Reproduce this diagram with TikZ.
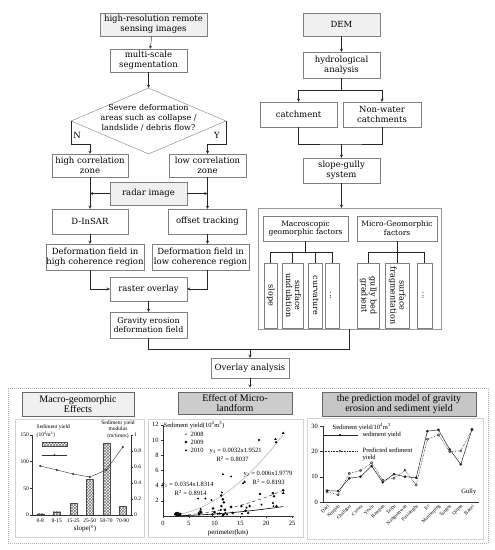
\documentclass[tikz,border=0pt]{standalone}
\usepackage{fontspec}
\setmainfont{DejaVu Serif}
\newfontfamily\chartfont{Liberation Serif}
\usepackage{graphicx}
\usetikzlibrary{shapes.geometric, arrows, positioning, patterns, plotmarks}
\newcommand{\factortext}[1]{\rotatebox{-90}{\begin{tabular}{@{}c@{}}#1\end{tabular}}}
\tikzstyle{process} = [rectangle, draw=gray, fill=white, inner sep=0pt, align=center, font=\fontsize{8.5}{10}\selectfont]
\tikzstyle{source} = [process, fill=gray!12]
\tikzstyle{decision} = [diamond, draw=gray, inner sep=0pt, minimum width=155pt, minimum height=66pt]
\tikzstyle{group} = [rectangle, draw=gray!80, inner sep=0pt]
\tikzstyle{factor} = [process, minimum height=65pt, font=\fontsize{8}{9}\selectfont]
\tikzstyle{arrow} = [->, >=stealth, draw=black!85]
\tikzstyle{link} = [draw=black!85]
\tikzstyle{results} = [rectangle, draw=gray!60, densely dotted, line width=1pt, inner sep=0pt]
\tikzstyle{panel} = [rectangle, draw=gray!35, line width=0.8pt, inner sep=0pt]
\tikzstyle{title} = [rectangle, draw=gray!80!black, align=center, inner sep=0pt, font=\chartfont\fontsize{10}{10.5}\selectfont]
\tikzstyle{tick} = [inner sep=0.5pt, font=\chartfont\fontsize{5.5}{6.5}\selectfont]
\tikzstyle{ticklg} = [inner sep=0.5pt, font=\chartfont\fontsize{6.5}{7}\selectfont]
\tikzstyle{legend} = [inner sep=0.5pt, font=\chartfont\fontsize{6.5}{7.2}\selectfont]
\tikzstyle{axis} = [draw=black!80, line width=0.4pt]
\tikzstyle{bar} = [draw=black!70, line width=0.3pt, pattern=crosshatch, pattern color=black!55]
\tikzset{wh/.style 2 args={minimum width=#1pt, minimum height=#2pt}}

\begin{document}
\begin{tikzpicture}[x=1pt, y=-1pt]
        \useasboundingbox (0,0) rectangle (495,550);

        % Deformation branch
        \node (hrs) [source, wh={107}{23}] at (153.5,24.5) {high-resolution remote\\sensing images};
        \node (mss) [process, wh={77}{23}] at (148.5,60.5) {multi-scale\\segmentation};
        \node (dec) [decision] at (148.5,121) {};
        \node (dectext) [align=center, inner sep=0pt, font=\fontsize{8}{9.7}\selectfont] at (148.5,118) {Severe deformation\\areas such as collapse /\\landslide / debris flow?};
        \node (no) [inner sep=0pt, font=\fontsize{8.5}{10}\selectfont] at (77,135) {N};
        \node (yes) [inner sep=0pt, font=\fontsize{8.5}{10}\selectfont] at (217,135) {Y};
        \node (hcz) [process, wh={76}{23}] at (90,165.5) {high correlation\\zone};
        \node (lcz) [process, wh={77}{23}] at (207.5,165.5) {low correlation\\zone};
        \node (radar) [source, wh={77}{23}] at (148.5,193.5) {radar image};
        \node (dinsar) [process, wh={76}{25}] at (90,221.5) {D-InSAR};
        \node (offset) [process, wh={78}{25}] at (207.5,221.5) {offset tracking};
        \node (dfh) [process, wh={98}{26}] at (95,257) {Deformation field in\\high coherence region};
        \node (dfl) [process, wh={97}{26}] at (200.5,257) {Deformation field in\\low coherence region};
        \node (raster) [process, wh={77}{24}] at (148.5,289) {raster overlay};
        \node (gravity) [process, wh={77}{26}, font=\fontsize{8}{9.5}\selectfont] at (148.5,325) {Gravity erosion\\deformation field};

        % Terrain branch
        \node (dem) [source, wh={77}{23}] at (341.5,24.5) {DEM};
        \node (hydro) [process, wh={77}{26}] at (341.5,65) {hydrological\\analysis};
        \node (catch) [process, wh={77}{25}] at (298.5,114.5) {catchment};
        \node (nonwater) [process, wh={78}{25}] at (382,114.5) {Non-water\\catchments};
        \node (sg) [process, wh={77}{25}] at (341.5,170.5) {slope-gully\\system};
        \node (fac) [group, wh={183}{121}] at (349.5,268.5) {};
        \node (macro) [process, wh={85}{25}, font=\fontsize{7.5}{8.8}\selectfont] at (305.5,228.5) {Macroscopic\\geomorphic factors};
        \node (micro) [process, wh={80}{25}, font=\fontsize{7.5}{8.8}\selectfont] at (397,228.5) {Micro-Geomorphic\\factors};
        \node (slope) [factor, minimum width=13pt] at (270.5,295.5) {\factortext{slope}};
        \node (undul) [factor, minimum width=21pt] at (292.5,295.5) {\factortext{surface\\undulation}};
        \node (curv) [factor, minimum width=14pt] at (315,295.5) {\factortext{curvature}};
        \node (more1) [factor, minimum width=14pt] at (332,295.5) {\factortext{...}};
        \node (gbg) [factor, minimum width=22pt] at (368,295.5) {\factortext{gully bed\\gradient}};
        \node (sfrag) [factor, minimum width=24pt] at (397,295.5) {\factortext{surface\\fragmentation}};
        \node (more2) [factor, minimum width=15pt] at (424.5,295.5) {\factortext{...}};

        \node (overlay) [process, wh={78}{20}] at (250,368) {Overlay analysis};
        \coordinate (ojoin) at (250,349);

        % Arrows, left
        \draw [arrow] (hrs) -- (mss);
        \draw [arrow] (mss) -- (dec);
        \draw [arrow] (dec.west) -- ++(0,23) -| (hcz.north);
        \draw [arrow] (dec.east) -- ++(0,23) -| (lcz.north);
        \draw [arrow] (hcz) -- (dinsar);
        \draw [arrow] (lcz) -- (offset);
        \draw [arrow] (radar.west) -- (radar.west -| hcz.south);
        \draw [arrow] (radar.east) -- (radar.east -| lcz.south);
        \draw [arrow] (dinsar.south) -- (dinsar.south |- dfh.north);
        \draw [arrow] (offset.south) -- (offset.south |- dfl.north);
        \draw [arrow] (dinsar.south |- dfh.south) |- (raster.west);
        \draw [arrow] (offset.south |- dfl.south) |- (raster.east);
        \draw [arrow] (raster) -- (gravity);

        % Arrows, right
        \draw [arrow] (dem) -- (hydro);
        \draw [link] (hydro.south) -- ++(0,12) coordinate (hsplit);
        \draw [arrow] (hsplit) -| (catch.north);
        \draw [arrow] (hsplit) -| (nonwater.north);
        \coordinate (cjoin) at (341.5,144);
        \draw [link] (catch.south) |- (cjoin) -| (nonwater.south);
        \draw [arrow] (cjoin) -- (sg.north);
        \draw [arrow] (sg.south) -- (sg.south |- fac.north);
        \draw [link] (macro.south) -- ++(0,11) coordinate (mbar);
        \draw [link] (slope.north |- mbar) -- (more1.north |- mbar);
        \foreach \f in {slope, undul, curv, more1}
            \draw [link] (\f.north |- mbar) -- (\f.north);
        \draw [link] (micro.south) -- ++(0,11) coordinate (ubar);
        \draw [link] (gbg.north |- ubar) -- (more2.north |- ubar);
        \foreach \f in {gbg, sfrag, more2}
            \draw [link] (\f.north |- ubar) -- (\f.north);

        % Merge into overlay
        \draw [link] (gravity.south) |- (ojoin);
        \draw [link] (fac.south) |- (ojoin);
        \draw [arrow] (ojoin) -- (overlay.north);

        % Results
        \node (res) [results, wh={480}{155}] at (248,465.5) {};
        \draw [arrow] (overlay.south) -- (overlay.south |- res.north);
        \node (p1) [panel, wh={129}{118}] at (79.5,478) {};
        \node (t1) [title, fill=gray!12, wh={112}{24}] at (78,404) {Macro-geomorphic\\Effects};
        \node (p2) [panel, wh={155}{118}] at (225.5,478) {};
        \node (t2) [title, fill=gray!40, wh={114}{22}] at (235,403) {Effect of Micro-\\landform};
        \node (p3) [panel, wh={176}{121}] at (395,478.5) {};
        \node (t3) [title, fill=gray!45, wh={154}{24}] at (399,404) {the prediction model of gravity\\erosion and sediment yield};

        % Chart 1: slope classes
        \foreach \i/\h in {0/1.1, 1/3.2, 2/11.7, 3/35.7, 4/72, 5/9}
            \draw [bar] ({40.25+16.5*\i-3.5},515) rectangle ++(7,-\h);
        \draw [axis] (32,435) -- (32,515) -- (131,515) -- (131,435);
        \foreach \v in {0,50,100,150} {
            \draw [axis] (32,{515-\v*0.5333}) -- (30,{515-\v*0.5333});
            \node (ly\v) [tick, anchor=east] at (29.5,{515-\v*0.5333}) {\v};
        }
        \foreach \v [count=\k] in {0,0.2,0.4,0.6,0.8,1} {
            \draw [axis] (131,{515-\v*80}) -- (133,{515-\v*80});
            \node (ry\k) [tick, anchor=west] at (133.5,{515-\v*80}) {\v};
        }
        \foreach \c [count=\k from 0] in {0-8, 8-15, 15-25, 25-50, 50-70, 70-90}
            \node (cx\k) [tick, anchor=north] at ({40.25+16.5*\k},518.5) {\c};
        \draw [black!80, line width=0.4pt, mark=*, mark size=0.8pt] plot coordinates {(40.25,466) (56.75,470) (73.25,474) (89.75,477) (106.25,470) (122.75,447)};
        \node (c1yield) [legend, anchor=west, font=\chartfont\fontsize{5.5}{6.5}\selectfont] at (36,427) {Sediment yield};
        \node (c1unit) [legend, anchor=west, font=\chartfont\fontsize{5.5}{6.5}\selectfont] at (36,435) {(10\textsuperscript{4}m\textsuperscript{3})};
        \draw [bar] (42,442) rectangle (67,446);
        \draw [black!80, line width=0.4pt] (42,455) -- (67,455);
        \fill [black] (54.5,455) circle (0.8);
        \node (c1mod) [legend, align=center, font=\chartfont\fontsize{5.5}{6.6}\selectfont] at (118,429.5) {Sediment yield\\modulus\\(m/times)};
        \node (c1slope) [ticklg, font=\chartfont\fontsize{7}{8}\selectfont] at (85,528.5) {slope(°)};

        % Chart 2: perimeter scatter
        \begin{scope}[shift={(163,516)}, x=5.16pt, y=7.6pt]
            \draw [axis] (0,12) -- (0,0) -- (25.3,0);
            \foreach \v in {2,4,...,12} {
                \draw [axis] (0,\v) -- (-0.4,\v);
                \node (py\v) [ticklg, anchor=east] at (-0.7,\v) {\v};
            }
            \foreach \v in {0,5,...,25} {
                \draw [axis] (\v,0) -- (\v,-0.3);
                \node (px\v) [ticklg, anchor=north] at (\v,-0.6) {\v};
            }
            \draw [gray!80, line width=0.4pt, domain=2.5:23.3, samples=40] plot (\x, {0.0231*\x^1.95});
            \draw [black!80, line width=0.5pt, dashed, domain=2.5:23.3, samples=40] plot (\x, {0.0066*\x^1.98});
            \draw [black, line width=0.6pt, domain=2.5:23.3, samples=40] plot (\x, {0.0039*\x^1.83});
            \draw plot [only marks, mark=*, mark size=0.75pt] coordinates {(18.6,10.0) (11.6,5.5) (13.2,5.2) (15.5,4.3) (6.8,2.3) (8.2,2.3) (9.4,2.1) (11.4,3.1) (21.3,1.7) (21.4,1.3) (16.2,1.1) (2.3,0.2) (2.6,0.4) (3.0,0.1) (3.4,0.3) (6.9,0.4) (7.3,0.9) (10.6,0.3) (11.2,0.8) (11.8,0.2) (12.1,0.4) (19.1,1.5) (15.3,0.3)};
            \draw plot [only marks, mark=oplus, mark size=1.2pt, mark options={line width=0.3pt}] coordinates {(18.8,2.9) (21.3,3.0) (21.5,2.6) (23.3,3.4) (11.3,2.7) (11.6,2.2) (11.8,1.8) (9.7,1.0) (11.3,1.3) (13.2,1.2) (15.2,1.3) (16.8,1.3) (2.5,0.2) (2.9,0.4) (3.3,0.2) (7.2,0.6) (7.0,0.3) (10,0.5) (12,0.8) (16,0.7) (9.6,0.2) (13.5,0.4)};
            \draw plot [only marks, mark=triangle*, mark size=1.1pt] coordinates {(23.3,10.9) (21.9,9.7) (21.8,10.1) (15.8,4.5) (23.3,3.0) (22.0,1.3) (2.7,0.1) (3.2,0.2) (2.4,0.3) (7,0.2) (7.4,0.5) (11,0.3) (11.6,0.1) (16.5,0.4) (12.4,0.2)};
        \end{scope}
        \node (c2yield) [legend, anchor=west] at (163,425) {Sediment yield(10\textsuperscript{4}m\textsuperscript{3})};
        \fill [black] (186,434) circle (0.75);
        \node (c2a) [legend, anchor=west] at (190,434) {2008};
        \draw [line width=0.3pt] (186,442) circle (1.2) (184.8,442) -- (187.2,442) (186,440.8) -- (186,443.2);
        \node (c2b) [legend, anchor=west] at (190,442) {2009};
        \fill [black] (186,449) -- (187.1,451) -- (184.9,451) -- cycle;
        \node (c2c) [legend, anchor=west] at (190,450) {2010};
        \node (eq3) [legend, anchor=west] at (209,451) {y\textsubscript{3} = 0.0032x1.9521};
        \node (r3) [legend, anchor=west] at (216,459) {R\textsuperscript{2} = 0.8037};
        \node (eq2) [legend, anchor=west] at (243,474) {y\textsubscript{2} = 0.006x1.9779};
        \node (r2) [legend, anchor=west] at (252,482) {R\textsuperscript{2} = 0.8193};
        \node (eq1) [legend, anchor=west] at (161,485) {y\textsubscript{1} = 0.0354x1.8314};
        \node (r1) [legend, anchor=west] at (174,493) {R\textsuperscript{2} = 0.8914};
        \node (c2per) [ticklg, font=\chartfont\fontsize{7}{8}\selectfont] at (228,533) {perimeter(km)};

        % Chart 3: prediction per gully
        \begin{scope}[shift={(327,502)}, x=11.15pt, y=2.53pt]
            \draw [axis] (-0.36,30) -- (-0.36,0) -- (13.6,0);
            \foreach \v in {0,10,20,30} {
                \draw [axis] (-0.36,\v) -- (-0.6,\v);
                \node (qy\v) [ticklg, anchor=east] at (-0.75,\v) {\v};
            }
            \draw [black!85, line width=0.6pt, densely dotted, mark=o, mark size=1.2pt, mark options={solid, fill=white, line width=0.4pt}] plot coordinates {(0,4.0) (1,2.9) (2,11.3) (3,12.4) (4,15.5) (5,8.7) (6,9.4) (7,12.6) (8,6.7) (9,24.8) (10,26.5) (11,19.9) (12,20.2) (13,28.5)};
            \draw [black!85, line width=0.5pt, mark=*, mark size=1.1pt] plot coordinates {(0,4.5) (1,4.3) (2,9.4) (3,10) (4,14.2) (5,7.8) (6,11) (7,10) (8,9.6) (9,28) (10,28.5) (11,20.8) (12,14.9) (13,28.7)};
            \foreach \n [count=\i from 0] in {Dazi, Xinqiao, Chaligou, Cuiwa, Yexiu, Banqian, Taipu, Nanguanwan, Fuxiangba, Er, Manisuping, Tangou, Qiqun, Banzi}
                \node (g\i) [inner sep=0.3pt, font=\chartfont\fontsize{5}{5.5}\selectfont, rotate=45, anchor=east] at (\i+0.15,-1.3) {\n};
        \end{scope}
        \node (c3yield) [legend, anchor=west] at (332,427) {Sediment yield/10\textsuperscript{4}m\textsuperscript{3}};
        \draw [black!85, line width=0.5pt] (323,435) -- (358,435);
        \fill [black] (340,435) circle (1.1);
        \node (c3a) [legend, anchor=west] at (362,435) {sediment yield};
        \draw [black!85, line width=0.6pt, densely dotted] (323,451) -- (358,451);
        \draw [black!85, line width=0.4pt, fill=white] (340,451) circle (1.2);
        \node (c3b) [legend, anchor=west, align=left] at (362,454.5) {Predicted sediment\\yield};
        \node (c3gully) [legend, anchor=east] at (477,492) {Gully};
\end{tikzpicture}
\end{document}
